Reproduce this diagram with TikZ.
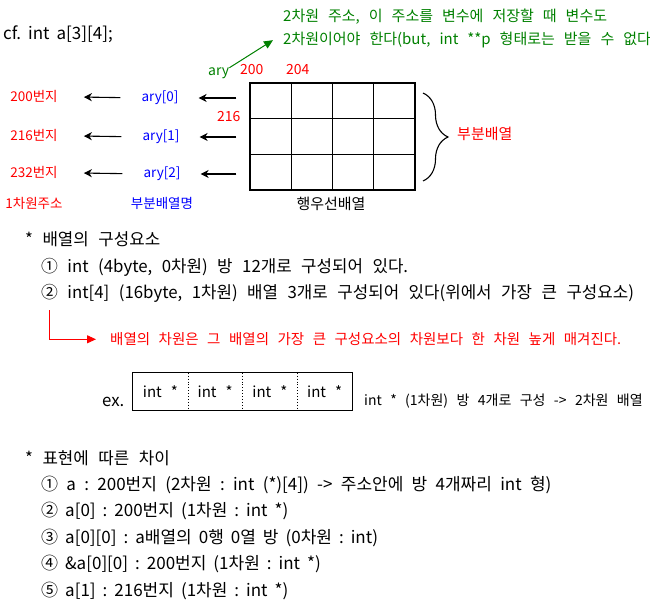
\documentclass[tikz,border=0pt]{standalone}
\usepackage{fontspec}
\setmainfont{Noto Sans CJK KR}
\usetikzlibrary{arrows.meta,calc,decorations.pathreplacing}
\definecolor{mygreen}{RGB}{0,128,0}
\definecolor{myred}{RGB}{255,0,0}
\definecolor{myblue}{RGB}{0,0,255}
\newcommand\fsz[3]{\fontsize{#1}{#2}\selectfont\frenchspacing\spaceskip=#3pt\relax}
\begin{document}
\begin{tikzpicture}[x=1pt,y=-1pt,
  txt/.style={inner sep=0pt,anchor=mid west,font=\fsz{16.8}{19}{9.5}},
  bot/.style={inner sep=0pt,anchor=mid west,font=\fsz{17}{19}{7}},
  note/.style={inner sep=0pt,anchor=mid west,font=\fsz{15}{17}{9}},
  rnote/.style={inner sep=0pt,anchor=mid west,font=\fsz{14.5}{16}{8.5}},
  num/.style={inner sep=0pt,anchor=mid west,font=\fsz{14}{16}{5}},
  small/.style={inner sep=0pt,anchor=mid,font=\fsz{13.5}{16}{5}},
  big/.style={inner sep=0pt,anchor=mid,font=\fsz{15}{17}{5}},
  cellbox/.style={draw,line width=1.3pt,minimum width=41.25pt,minimum height=35.67pt,inner sep=0pt},
  exbox/.style={minimum width=54.75pt,minimum height=37pt,inner sep=0pt,font=\fsz{15}{17}{9}},
  arr/.style={line width=1.1pt,-{Stealth[length=8pt,width=8pt,inset=2.5pt]}},
  tri/.style={line width=1pt,-{Triangle[length=9pt,width=8pt]}}]
\useasboundingbox (0,0) rectangle (650,611);
% title
\node[inner sep=0pt,anchor=mid west,font=\fsz{17}{19}{7}] (cf) at (3,37) {cf. int a[3][4];};
% green note
\node[note,text=mygreen] (g1) at (283,19) {2차원 주소, 이 주소를 변수에 저장할 때 변수도};
\node[note,text=mygreen] (g2) at (283,42) {2차원이어야 한다(but, int **p 형태로는 받을 수 없다};
\node[num,text=mygreen] (aryl) at (208,73) {ary};
\node[num,text=myred] (n200) at (240,72) {200};
\node[num,text=myred] (n204) at (286,72) {204};
\node[num,text=myred] (n216) at (217,119) {216};
\draw[tri,draw=mygreen] (aryl.north east) -- ([xshift=-10pt]g2.west);
% grid
\foreach \r in {1,2,3}{\foreach \c in {1,...,4}{
  \node[cellbox] (cell-\r-\c) at ({250+41.25*(\c-0.5)},{83+35.67*(\r-0.5)}) {};}}
\node[big] (row) at (331,207) {행우선배열};
% brace
\draw[line width=1.1pt,decorate,decoration={brace,amplitude=25pt}] (423,93) -- (423,181);
\node[inner sep=0pt,anchor=mid west,font=\fsz{15}{17}{5},text=myred] (sub) at (457,137) {부분배열};
% left labels
\node[small,text=myblue] (ary0) at (160,99) {ary[0]};
\node[small,text=myblue] (ary1) at (161,138) {ary[1]};
\node[small,text=myblue] (ary2) at (162,175) {ary[2]};
\node[small,text=myred] (ad0) at (34,99) {200번지};
\node[small,text=myred] (ad1) at (34,138) {216번지};
\node[small,text=myred] (ad2) at (34,175) {232번지};
\node[small,text=myred] (dim1) at (34,206) {1차원주소};
\node[small,text=myblue] (subn) at (162,206) {부분배열명};
\foreach \i in {0,1,2}{
  \draw[arr,shorten >=20pt] ($(cell-1-1.west |- ary\i)+(-13,0)$) -- (ary\i.east);
  \draw[arr,shorten <=21pt,shorten >=26pt] (ary\i.west) -- (ad\i.east);}
% components
\node[txt] (s1) at (25,243) {* 배열의 구성요소};
\node[txt] (i1) at (41,270) {① int (4byte, 0차원) 방 12개로 구성되어 있다.};
\node[txt] (i2) at (41,296) {② int[4] (16byte, 1차원) 배열 3개로 구성되어 있다(위에서 가장 큰 구성요소)};
\coordinate (rs) at (49,310);
\node[rnote,text=myred] (rt) at (110,342) {배열의 차원은 그 배열의 가장 큰 구성요소의 차원보다 한 차원 높게 매겨진다.};
\draw[tri,draw=myred,shorten >=14pt] (rs) |- (rt.west);
% ex box
\node[txt] (ex) at (102,404) {ex.};
\foreach \c in {1,...,4}{
  \node[exbox] (b\c) at ({133+54.75*(\c-0.5)},391.5) {int *};}
\draw[line width=1.3pt] (b1.north west) rectangle (b4.south east);
\foreach \a in {1,2,3}{
  \draw[line width=0.9pt,dotted] (b\a.north east) -- (b\a.south east);}
\node[inner sep=0pt,anchor=mid west,font=\fsz{14}{16}{8.4}] (exr) at (364,403) {int * (1차원) 방 4개로 구성 -> 2차원 배열};
% expressions
\node[txt] (s2) at (25,462) {* 표현에 따른 차이};
\node[bot,font=\fsz{17}{19}{8.3}] (e1) at (41,488) {① a : 200번지 (2차원 : int (*)[4]) -> 주소안에 방 4개짜리 int 형)};
\node[bot] (e2) at (41,514) {② a[0] : 200번지 (1차원 : int *)};
\node[bot] (e3) at (41,541) {③ a[0][0] : a배열의 0행 0열 방 (0차원 : int)};
\node[bot] (e4) at (41,567) {④ \&a[0][0] : 200번지 (1차원 : int *)};
\node[bot] (e5) at (41,594) {⑤ a[1] : 216번지 (1차원 : int *)};
\end{tikzpicture}
\end{document}
